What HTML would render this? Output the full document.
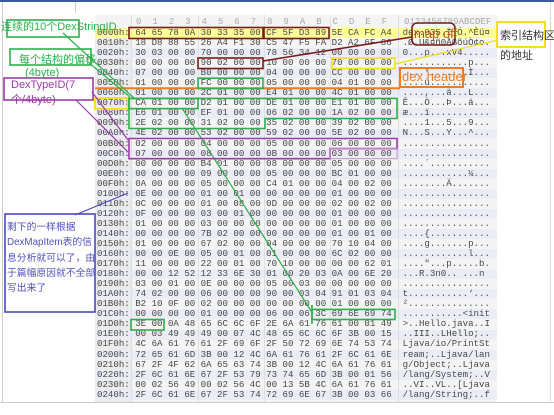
<!DOCTYPE html>
<html><head><meta charset="utf-8"><style>
html,body{margin:0;padding:0;}
body{width:554px;height:415px;position:relative;overflow:hidden;background:#fff;font-family:"Liberation Sans","Noto Sans CJK SC",sans-serif;}
.abs{position:absolute;}
#panel{left:95px;top:15px;width:402px;height:387px;background:#f4f4f4;}
.stripe{position:absolute;left:95px;width:402px;height:10.05px;}
pre{margin:0;position:absolute;left:97px;top:28px;font-family:"Liberation Mono",monospace;font-size:9.1px;line-height:10.05px;color:#484848;white-space:pre;}
.hdr{position:absolute;top:16px;font-family:"Liberation Mono",monospace;font-size:9.1px;color:#aaa;white-space:pre;}
.lbl{position:absolute;white-space:nowrap;font-size:11px;}
</style></head><body>
<div class="abs" style="left:0;top:0;width:554px;height:2px;background:#3a5a9a"></div>
<div class="abs" style="left:2px;top:2px;width:1px;height:400px;background:#ccc"></div>
<div class="abs" style="left:75px;top:2px;width:1px;height:11px;background:#ccc"></div>
<div class="abs" style="left:0;top:402px;width:554px;height:1px;background:#ccc"></div>
<div class="abs" style="left:550px;top:2px;width:1px;height:400px;background:#ddd"></div>
<div id="panel" class="abs"></div>
<div class="abs" style="left:95px;top:28px;width:36px;height:374px;background:#ebebeb"></div>
<div class="stripe" style="top:28px;background:#ffff99"></div>
<div class="stripe" style="top:48.1px;background:#ececf6"></div>
<div class="stripe" style="top:68.2px;background:#ececf6"></div>
<div class="stripe" style="top:88.3px;background:#ececf6"></div>
<div class="stripe" style="top:108.4px;background:#ececf6"></div>
<div class="stripe" style="top:128.5px;background:#ececf6"></div>
<div class="stripe" style="top:148.6px;background:#ececf6"></div>
<div class="stripe" style="top:168.7px;background:#ececf6"></div>
<div class="stripe" style="top:188.8px;background:#ececf6"></div>
<div class="stripe" style="top:208.9px;background:#ececf6"></div>
<div class="stripe" style="top:229px;background:#ececf6"></div>
<div class="stripe" style="top:249.1px;background:#ececf6"></div>
<div class="stripe" style="top:269.2px;background:#ececf6"></div>
<div class="stripe" style="top:289.3px;background:#ececf6"></div>
<div class="stripe" style="top:309.4px;background:#ececf6"></div>
<div class="stripe" style="top:329.5px;background:#ececf6"></div>
<div class="stripe" style="top:349.6px;background:#ececf6"></div>
<div class="stripe" style="top:369.7px;background:#ececf6"></div>
<div class="stripe" style="top:389.8px;background:#ececf6"></div>
<div class="abs" style="left:131px;top:15px;width:1px;height:387px;background:#ddd"></div>
<div class="abs" style="left:198px;top:15px;width:1px;height:387px;background:#e0e0e0"></div>
<div class="abs" style="left:264px;top:15px;width:1px;height:387px;background:#e0e0e0"></div>
<div class="abs" style="left:330px;top:15px;width:1px;height:387px;background:#e0e0e0"></div>
<div class="abs" style="left:398px;top:15px;width:1px;height:387px;background:#ddd"></div>
<div class="hdr" style="left:136px">0  1  2  3  4  5  6  7  8  9  A  B  C  D  E  F</div>
<div class="hdr" style="left:404px">0123456789ABCDEF</div>
<pre>0000h: 64 65 78 0A 30 33 35 00 CF 5F D3 89 5E CA FC A4  dex.035.Ï_Ó.^Êü¤
0010h: 18 D8 88 55 26 A4 F1 30 C5 47 F5 FA D2 A2 6F 86  .Ø.U&amp;¤ñ0ÅGõúÒ¢o.
0020h: 30 03 00 00 70 00 00 00 78 56 34 12 00 00 00 00  0...p...xV4.....
0030h: 00 00 00 00 90 02 00 00 10 00 00 00 70 00 00 00  ............p...
0040h: 07 00 00 00 B0 00 00 00 04 00 00 00 CC 00 00 00  ....°.......Ì...
0050h: 01 00 00 00 FC 00 00 00 05 00 00 00 04 01 00 00  ....ü...........
0060h: 01 00 00 00 2C 01 00 00 E4 01 00 00 4C 01 00 00  ....,...ä...L...
0070h: CA 01 00 00 D2 01 00 00 DE 01 00 00 E1 01 00 00  Ê...Ò...Þ...á...
0080h: E6 01 00 00 EF 01 00 00 06 02 00 00 1A 02 00 00  æ...ï...........
0090h: 2E 02 00 00 31 02 00 00 35 02 00 00 39 02 00 00  ....1...5...9...
00A0h: 4E 02 00 00 53 02 00 00 59 02 00 00 5E 02 00 00  N...S...Y...^...
00B0h: 02 00 00 00 04 00 00 00 05 00 00 00 06 00 00 00  ................
00C0h: 07 00 00 00 08 00 00 00 0B 00 00 00 03 00 00 00  ................
00D0h: 00 00 00 00 B4 01 00 00 08 00 00 00 05 00 00 00  ....´...........
00E0h: 00 00 00 00 09 00 00 00 05 00 00 00 BC 01 00 00  ............¼...
00F0h: 0A 00 00 00 05 00 00 00 C4 01 00 00 04 00 02 00  ........Ä.......
0100h: 0E 00 00 00 01 00 01 00 00 00 00 00 01 00 00 00  ................
0110h: 0C 00 00 00 01 00 08 00 0D 00 00 00 02 00 02 00  ................
0120h: 0F 00 00 00 03 00 01 00 00 00 00 00 01 00 00 00  ................
0130h: 01 00 00 00 03 00 00 00 00 00 00 00 01 00 00 00  ................
0140h: 00 00 00 00 7B 02 00 00 00 00 00 00 01 00 01 00  ....{...........
0150h: 01 00 00 00 67 02 00 00 04 00 00 00 70 10 04 00  ....g.......p...
0160h: 00 00 0E 00 05 00 01 00 01 00 00 00 6C 02 00 00  ............l...
0170h: 11 00 00 00 22 00 01 00 70 10 00 00 00 00 62 01  ...."...p.....b.
0180h: 00 00 12 52 12 33 6E 30 01 00 20 03 0A 00 6E 20  ...R.3n0.. ...n 
0190h: 03 00 01 00 0E 00 00 00 05 00 03 00 00 00 00 00  ................
01A0h: 74 02 00 00 06 00 00 00 90 00 03 04 91 01 03 04  t...........‘...
01B0h: B2 10 0F 00 02 00 00 00 00 00 00 00 01 00 00 00  ²...............
01C0h: 00 00 00 00 01 00 00 00 06 00 06 3C 69 6E 69 74  ...........&lt;init
01D0h: 3E 00 0A 48 65 6C 6C 6F 2E 6A 61 76 61 00 01 49  &gt;..Hello.java..I
01E0h: 00 03 49 49 49 00 07 4C 48 65 6C 6C 6F 3B 00 15  ..III..LHello;..
01F0h: 4C 6A 61 76 61 2F 69 6F 2F 50 72 69 6E 74 53 74  Ljava/io/PrintSt
0200h: 72 65 61 6D 3B 00 12 4C 6A 61 76 61 2F 6C 61 6E  ream;..Ljava/lan
0210h: 67 2F 4F 62 6A 65 63 74 3B 00 12 4C 6A 61 76 61  g/Object;..Ljava
0220h: 2F 6C 61 6E 67 2F 53 79 73 74 65 6D 3B 00 01 56  /lang/System;..V
0230h: 00 02 56 49 00 02 56 4C 00 13 5B 4C 6A 61 76 61  ..VI..VL..[Ljava
0240h: 2F 6C 61 6E 67 2F 53 74 72 69 6E 67 3B 00 03 66  /lang/String;..f</pre>

<svg class="abs" style="left:0;top:0" width="554" height="415" viewBox="0 0 554 415">
<g fill="none" stroke-width="1.6">
<rect x="129" y="27.5" width="134" height="11" stroke="#7a1c1c"/>
<rect x="264" y="27.5" width="65" height="11" stroke="#7a1c1c"/>
<rect x="198" y="58" width="65" height="10.5" stroke="#7a1c1c"/>
<line x1="263" y1="61" x2="412" y2="37" stroke="#7a1c1c"/>
<rect x="412" y="23" width="43" height="22" rx="5" stroke="#7a1c1c"/>
<rect x="332" y="58" width="63" height="10.5" stroke="#f2e01a"/>
<line x1="395" y1="64" x2="498" y2="40" stroke="#f2e01a" stroke-width="1.2"/>
<rect x="497" y="22" width="48" height="25" stroke="#f2e01a" stroke-width="2"/>
<rect x="95" y="98" width="33" height="11" stroke="#f2e01a" stroke-width="2"/>
<line x1="95" y1="88.3" x2="400" y2="88.3" stroke="#ee7d22" stroke-width="2"/>
<rect x="400" y="68" width="63" height="19" stroke="#ee7d22" stroke-width="2"/>
<rect x="7" y="20" width="72" height="17" stroke="#2eb04a"/>
<rect x="10" y="49" width="81" height="16" stroke="#2eb04a"/>
<rect x="198" y="78.2" width="65" height="10.2" stroke="#2eb04a"/>
<rect x="129" y="98.4" width="69" height="10.2" stroke="#2eb04a"/>
<polygon points="129,98.4 397,98.4 397,118.5 265,118.5 265,128.5 129,128.5" stroke="#2eb04a"/>
<line x1="63" y1="33" x2="135" y2="99" stroke="#2eb04a" stroke-width="1.2"/>
<line x1="88" y1="62" x2="130" y2="97" stroke="#2eb04a" stroke-width="1.2"/>
<line x1="182" y1="108" x2="313" y2="314" stroke="#2eb04a" stroke-width="1.2"/>
<rect x="312" y="309.4" width="83" height="10.1" stroke="#2eb04a"/>
<line x1="312" y1="305" x2="312" y2="324" stroke="#2eb04a"/>
<rect x="131" y="319.5" width="33" height="10.5" stroke="#2eb04a"/>
<rect x="4" y="78" width="89" height="22" stroke="#9c3aa6"/>
<polygon points="129,138.5 397,138.5 397,148.6 330,148.6 330,158.7 129,158.7" stroke="#9c3aa6"/>
<rect x="330" y="148.6" width="67" height="10.1" stroke="#c58ccb" stroke-width="1"/>
<line x1="76" y1="100" x2="128" y2="152" stroke="#9c3aa6" stroke-width="1.2"/>
<line x1="92" y1="92" x2="128" y2="140" stroke="#9c3aa6" stroke-width="1.2"/>
<rect x="5" y="214" width="90" height="98" stroke="#4a4ac0"/>
<line x1="75" y1="215" x2="128" y2="193" stroke="#4a4ac0" stroke-width="1.2"/>
</g>
</svg>

<div class="lbl" style="left:1px;top:18px;color:#2eb04a">连续的10个DexStringID</div>
<div class="lbl" style="left:19px;top:51px;color:#2eb04a">每个结构的偏移</div>
<div class="lbl" style="left:25px;top:67px;color:#2eb04a">(4byte)</div>
<div class="lbl" style="left:11px;top:78px;color:#9c3aa6;line-height:15px">DexTypeID(7<br>个/4byte)</div>
<div class="lbl" style="left:402px;top:69px;color:#ee7d22;font-size:13px">dex header</div>
<div class="lbl" style="left:414px;top:26px;color:#b8502a;font-size:13px">map off</div>
<div class="lbl" style="left:500px;top:26px;color:#333;font-size:11px;line-height:20px">索引结构区<br>的地址</div>
<div class="lbl" style="left:7px;top:220px;color:#5050c0;font-size:9.8px;line-height:15.3px">剩下的一样根据<br>DexMapItem表的信<br>息分析就可以了，由<br>于篇幅原因就不全部<br>写出来了</div>
</body></html>
